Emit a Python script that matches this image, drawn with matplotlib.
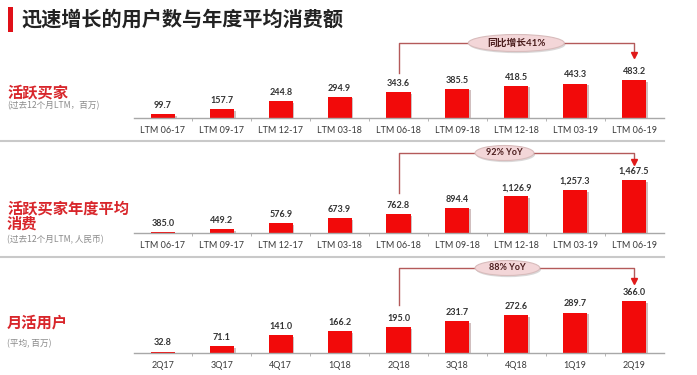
import matplotlib
matplotlib.use('Agg')
import matplotlib.pyplot as plt
from matplotlib.patches import Ellipse, Rectangle
from matplotlib import transforms
from matplotlib.lines import Line2D
import matplotlib.patheffects as pe

# ---------------- data ----------------
ltm_labels = ['LTM 06-17', 'LTM 09-17', 'LTM 12-17', 'LTM 03-18', 'LTM 06-18',
              'LTM 09-18', 'LTM 12-18', 'LTM 03-19', 'LTM 06-19']
quarter_labels = ['2Q17', '3Q17', '4Q17', '1Q18', '2Q18', '3Q18', '4Q18', '1Q19', '2Q19']
active_buyers = [99.7, 157.7, 244.8, 294.9, 343.6, 385.5, 418.5, 443.3, 483.2]
annual_spend = [385.0, 449.2, 576.9, 673.9, 762.8, 894.4, 1126.9, 1257.3, 1467.5]
mau = [32.8, 71.1, 141.0, 166.2, 195.0, 231.7, 272.6, 289.7, 366.0]

title = '迅速增长的用户数与年度平均消费额'
panel_titles = [['活跃买家'], ['活跃买家年度平均', '消费'], ['月活用户']]
panel_subtitles = ['(过去12个月LTM，百万)', '(过去12个月LTM, 人民币)', '(平均, 百万)']
growth_labels = ['同比增长41%', '92% YoY', '88% YoY']

# ---------------- layout ----------------
W, H, DPI = 697, 375, 100
CJK = ['Noto Sans CJK SC', 'DejaVu Sans']
plt.rcParams['font.family'] = ['Lato', 'Noto Sans CJK SC', 'DejaVu Sans']

fig = plt.figure(figsize=(W / DPI, H / DPI), dpi=DPI)
fig.patch.set_facecolor('white')


def fy(ypx):
    return 1 - ypx / H


def fx(xpx):
    return xpx / W


RED = '#f20a0a'
HEAD_RED = '#d8262b'

panels = [
    dict(values=active_buyers, labels=ltm_labels, fmt='{:,.1f}', base=118, top=36, floor=55, slope=0.0887,
         head_y=[92], sub_y=106, br_top=43, br_start=73, arrow=57, ell_x=6.0, ell_w=1.63, ell_h=17, gfs=7),
    dict(values=annual_spend, labels=ltm_labels, fmt='{:,.1f}', base=233, top=150, floor=369, slope=0.0482,
         head_y=[208, 224], sub_y=240, br_top=153, br_start=193, arrow=164, ell_x=5.8, ell_w=1.0, ell_h=15, gfs=6.5),
    dict(values=mau, labels=quarter_labels, fmt='{:,.1f}', base=353, top=265, floor=24, slope=0.152,
         head_y=[323], sub_y=344, br_top=268, br_start=305, arrow=283, ell_x=5.85, ell_w=1.1, ell_h=15, gfs=6.5),
]

# title
fig.patches.append(Rectangle((fx(8), fy(32)), fx(5), 25 / H, transform=fig.transFigure,
                             facecolor='#e01018', edgecolor='none'))
fig.text(fx(21), fy(19), title, fontsize=14.5, fontweight='bold', color='#222222',
         family=CJK, va='center', ha='left')

# separators
for ysep in [141, 257]:
    fig.add_artist(Line2D([0, fx(664)], [fy(ysep), fy(ysep)], transform=fig.transFigure,
                          color='#c9c9c9', lw=1.5))

left_px, right_px = 133.5, 663.5
for i, p in enumerate(panels):
    hpx = p['base'] - p['top']
    ax = fig.add_axes([fx(left_px), fy(p['base']), fx(right_px - left_px), hpx / H])
    n = len(p['values'])
    xs = list(range(n))
    bars = ax.bar(xs, p['values'], width=0.41, color=RED, edgecolor='none', zorder=2)
    for b in bars:
        b.set_path_effects([pe.SimplePatchShadow(offset=(1.2, -1.2), alpha=0.25), pe.Normal()])
    ax.set_xlim(-0.5, n - 0.5)
    ax.set_ylim(p['floor'], p['floor'] + hpx / p['slope'])
    for s in ['top', 'right', 'left']:
        ax.spines[s].set_visible(False)
    ax.spines['bottom'].set_color('#a8a8a8')
    ax.spines['bottom'].set_linewidth(1.0)
    ax.spines['bottom'].set_zorder(3)
    ax.set_yticks([])
    ax.set_xticks(xs)
    ax.set_xticklabels(p['labels'], fontsize=6.5, color='#3a3a3a')
    ax.tick_params(axis='x', which='major', length=0, pad=5.5)
    ax.set_xticks([x + 0.5 for x in xs[:-1]], minor=True)
    ax.tick_params(axis='x', which='minor', length=2.5, color='#a8a8a8', direction='out')
    ax.patch.set_alpha(0)
    for x, v in zip(xs, p['values']):
        ax.annotate(p['fmt'].format(v), (x, v), xytext=(0, 3), textcoords='offset points',
                    ha='center', va='bottom', fontsize=6.5, fontweight='bold', color='#333333')

    # left headers
    for t, yy in zip(panel_titles[i], p['head_y']):
        fig.text(fx(7), fy(yy), t, fontsize=11, fontweight='bold', color=HEAD_RED,
                 family=CJK, va='center', ha='left')
    fig.text(fx(7), fy(p['sub_y']), panel_subtitles[i], fontsize=6.2, color='#8a8a8a',
             family=CJK, va='center', ha='left')

    # growth bracket
    tr = transforms.blended_transform_factory(ax.transData, fig.dpi_scale_trans)

    def iy(ypx):
        return (H - ypx) / DPI

    x0, x1 = 4, n - 1
    ax.add_line(Line2D([x0, x0, x1, x1], [iy(p['br_start']), iy(p['br_top']), iy(p['br_top']), iy(p['arrow'] - 3)],
                       transform=tr, color='#b45a5a', lw=1.0, clip_on=False))
    ax.plot([x1], [iy(p['arrow'] - 2)], marker='v', color='#e01a1a', markersize=4, transform=tr,
            clip_on=False, linestyle='none')
    ell = Ellipse((p['ell_x'], iy(p['br_top'])), p['ell_w'], p['ell_h'] / DPI, transform=tr,
                  facecolor='#f3d6d8', edgecolor='#d8bcbc', lw=0.8, clip_on=False, zorder=5)
    ell.set_path_effects([pe.SimplePatchShadow(offset=(0.8, -1.2), alpha=0.2), pe.Normal()])
    ax.add_patch(ell)
    ax.text(p['ell_x'], iy(p['br_top']), growth_labels[i], transform=tr, ha='center', va='center',
            fontsize=p['gfs'], fontweight='bold', color='#4a1c1c', family=['Lato', 'Noto Sans CJK SC'],
            zorder=6, clip_on=False)

fig.savefig('out.png', dpi=DPI, facecolor='white')
